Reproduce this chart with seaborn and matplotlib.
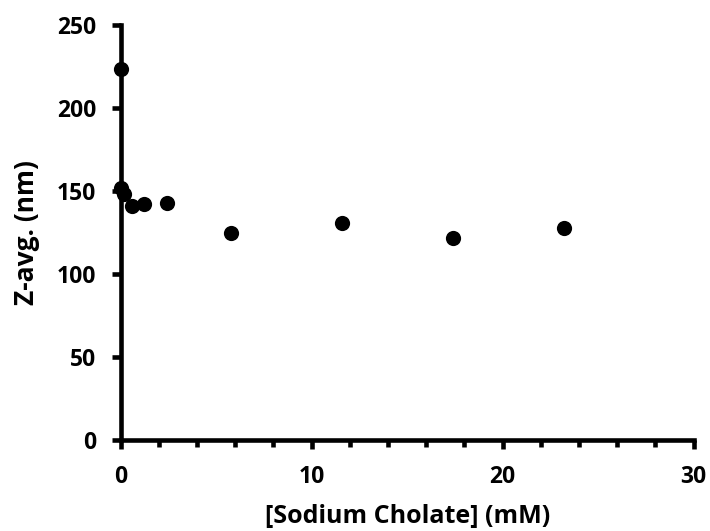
import matplotlib
matplotlib.use("Agg")
import matplotlib.pyplot as plt
import seaborn as sns
import pandas as pd
from matplotlib.ticker import MultipleLocator

sns.set_theme(style="white")
plt.rcParams['font.family'] = ['Open Sans', 'DejaVu Sans']
plt.rcParams['text.color'] = 'black'
plt.rcParams['axes.labelcolor'] = 'black'

cholate_mM = [0.0, 0.0, 0.15, 0.6, 1.2, 2.4, 5.8, 11.6, 17.4, 23.2]
z_avg_nm = [223.5, 152, 148, 141, 142, 143, 125, 131, 122, 128]

df = pd.DataFrame({"x": cholate_mM, "y": z_avg_nm})

fig = plt.figure(figsize=(7.1, 5.31), dpi=100)
ax = fig.add_axes([0.170, 0.171, 0.807, 0.782])
sns.scatterplot(data=df, x="x", y="y", ax=ax, color="black", s=120,
                edgecolor="black", linewidth=0, zorder=3, clip_on=False)

ax.set_xlim(0, 30)
ax.set_ylim(0, 250)
ax.xaxis.set_major_locator(MultipleLocator(10))
ax.xaxis.set_minor_locator(MultipleLocator(2))
ax.yaxis.set_major_locator(MultipleLocator(50))

for s in ["top", "right"]:
    ax.spines[s].set_visible(False)
for s in ["left", "bottom"]:
    ax.spines[s].set_color("black")
    ax.spines[s].set_linewidth(3.3)

ax.tick_params(axis="both", which="major", direction="out", length=6.5, width=3.3,
               colors="black", labelsize=16.5, pad=11)
ax.tick_params(axis="x", which="minor", direction="out", length=5, width=3.3,
               colors="black", bottom=True)
ax.tick_params(axis="y", which="major", left=True)
ax.tick_params(axis="x", which="major", bottom=True)
for lab in ax.get_xticklabels() + ax.get_yticklabels():
    lab.set_fontweight("bold")
    lab.set_color("black")

ax.set_xlabel("[Sodium Cholate] (mM)", fontsize=18, fontweight="bold", labelpad=11)
ax.set_ylabel("Z-avg. (nm)", fontsize=19, fontweight="bold", labelpad=12)

fig.savefig("out.png", dpi=100, facecolor="white")
